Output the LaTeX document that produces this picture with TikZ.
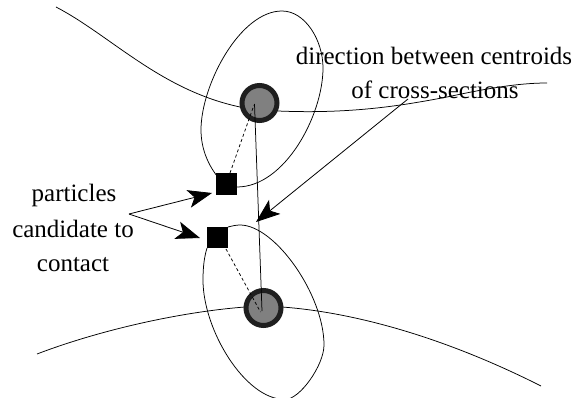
\documentclass[tikz,border=0pt]{standalone}
\usepackage{fontspec}
\setmainfont{Liberation Serif}
\usetikzlibrary{arrows.meta}
\tikzset{
  x=1pt,y=-1pt,
  curve/.style={draw=black,line width=0.75pt},
  sq/.style={fill=black,draw=none,minimum size=21.5pt,inner sep=0pt,outer sep=0pt},
  ring/.style={circle,fill=black!50,draw=black!88,line width=5pt,minimum size=35pt,inner sep=0pt,outer sep=0pt},
  lab/.style={font=\fontsize{25}{25}\selectfont,inner sep=0pt,anchor=base},
  link/.style={draw=black,line width=0.75pt},
  dot/.style={draw=black,line width=0.75pt,dash pattern=on 3pt off 2.5pt},
  arr/.style={draw=black,line width=0.8pt,-{Stealth[length=24pt,width=18pt,inset=6pt]}},
}
\begin{document}
\begin{tikzpicture}
\useasboundingbox (0,0) rectangle (573,398);
% particles
\node[sq] (ua) at (226.5,184) {};
\node[sq] (lb) at (217.5,237.5) {};
% cross-sections
\draw[curve] (217,176) .. controls (207,163) and (201,147) .. (201,130) .. controls (201,85) and (240,11) .. (282,11) .. controls (305,11) and (323,40) .. (323,68) .. controls (323,115) and (285,187) .. (237,187);
\draw[curve] (207,248) .. controls (204,258) and (203,268) .. (203,280) .. controls (203,330) and (245,399.5) .. (285,399.5) .. controls (300,399.5) and (324,365) .. (324,345) .. controls (324,295) and (275,225) .. (240,225) .. controls (236,225) and (232,226) .. (228,227);
% membranes
\draw[curve] (56,7) .. controls (110,35) and (160,90) .. (240,107);
\draw[curve] (278,111) .. controls (350,114) and (400,106) .. (447,97) .. controls (480,90) and (515,83) .. (547,83);
\draw[curve] (37,354) .. controls (100,330) and (180,312) .. (245,307);
\draw[curve] (282,307) .. controls (350,312) and (440,335) .. (541,386);
% centroids
\node[ring] (uc) at (259.5,103) {};
\node[ring] (lc) at (263.5,308) {};
\coordinate (up) at (254.5,104);
\coordinate (lp) at (262,311);
\coordinate (um) at (254,105);
\coordinate (lm) at (260.5,312);
\coordinate (ud) at (230,173);
\coordinate (ld) at (226,249);
\draw[link] (up) -- (lp);
\draw[dot] (ud) -- (um);
\draw[dot] (ld) -- (lm);
% labels
\node[lab] (t1) at (434,65) {direction between centroids};
\node[lab] (t2) at (435,99) {of cross-sections};
\node[lab] (t3) at (74,202) {particles};
\node[lab] (t4) at (73,237) {candidate to};
\node[lab] (t5) at (73,272) {contact};
% arrows
\coordinate (fa) at (129,214);
\coordinate (fb) at (408,99);
\draw[arr] (fa) -- (212,193);
\draw[arr] (fa) -- (200,238);
\draw[arr] (fb) -- (256,222);
\end{tikzpicture}
\end{document}
